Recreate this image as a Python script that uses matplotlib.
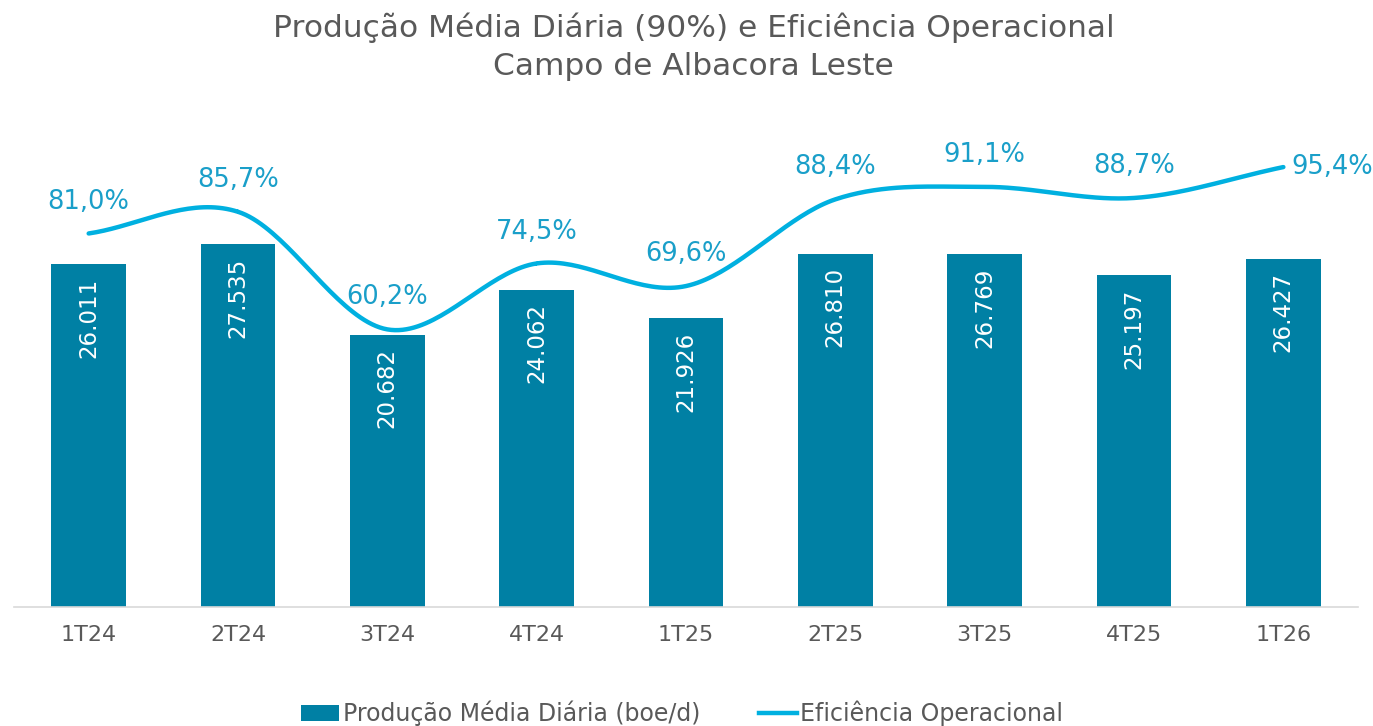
import numpy as np
import matplotlib
matplotlib.use('Agg')
from matplotlib import pyplot as plt
from matplotlib.lines import Line2D
from matplotlib.patches import Patch

# dados
quarters = ['1T24', '2T24', '3T24', '4T24', '1T25', '2T25', '3T25', '4T25', '1T26']
producao = [26011, 27535, 20682, 24062, 21926, 26810, 26769, 25197, 26427]
eficiencia = [81.0, 85.7, 60.2, 74.5, 69.6, 88.4, 91.1, 88.7, 95.4]

bar_color = '#0080A4'
line_color = '#00B0E0'
label_color = '#1A9FC9'
gray = '#595959'

plt.rcParams['font.family'] = ['DejaVu Sans']


def fmt_milhar(v):
    return f'{v:,}'.replace(',', '.')


def catmull_rom(xs, ys, n=40):
    # curva suavizada tipo Excel
    xs = np.asarray(xs, float)
    ys = np.asarray(ys, float)
    px = np.concatenate([[2 * xs[0] - xs[1]], xs, [2 * xs[-1] - xs[-2]]])
    py = np.concatenate([[2 * ys[0] - ys[1]], ys, [2 * ys[-1] - ys[-2]]])
    outx, outy = [], []
    t = np.linspace(0, 1, n)
    for i in range(1, len(px) - 2):
        for arr, out in ((px, outx), (py, outy)):
            p0, p1, p2, p3 = arr[i - 1], arr[i], arr[i + 1], arr[i + 2]
            out.extend(0.5 * ((2 * p1) + (-p0 + p2) * t
                              + (2 * p0 - 5 * p1 + 4 * p2 - p3) * t ** 2
                              + (-p0 + 3 * p1 - 3 * p2 + p3) * t ** 3))
    return np.array(outx), np.array(outy)


fig = plt.figure(figsize=(13.73, 7.26), dpi=100)
ax = fig.add_axes([0.0102, 0.1639, 0.9789, 0.6352])
x = np.arange(len(quarters))

ax.bar(x, producao, width=0.5, color=bar_color, zorder=2)
for xi, v in zip(x, producao):
    ax.text(xi, v - 1000, fmt_milhar(v), rotation=90, ha='center', va='top',
            color='white', fontsize=16.5)

ax.set_xlim(-0.5, len(quarters) - 0.5)
ax.set_ylim(0, 35000)
ax.set_yticks([])
ax.set_xticks(x)
ax.set_xticklabels(quarters, fontsize=16, color=gray)
ax.tick_params(axis='x', length=0, pad=13)
for s in ['top', 'right', 'left']:
    ax.spines[s].set_visible(False)
ax.spines['bottom'].set_color('#D9D9D9')
ax.spines['bottom'].set_linewidth(1.2)

ax2 = ax.twinx()
ax2.set_ylim(0, 100)
ax2.set_yticks([])
for s in ax2.spines.values():
    s.set_visible(False)
sx, sy = catmull_rom(x, eficiencia)
ax2.plot(sx, sy, color=line_color, lw=3.2, solid_capstyle='round', zorder=3)
for i, (xi, v) in enumerate(zip(x, eficiencia)):
    lab = f'{v:.1f}%'.replace('.', ',')
    if i == len(x) - 1:
        ax2.annotate(lab, (xi, v), xytext=(6, 0), textcoords='offset points',
                     ha='left', va='center', color=label_color, fontsize=18.5)
    else:
        ax2.annotate(lab, (xi, v), xytext=(0, 23), textcoords='offset points',
                     ha='center', va='center', color=label_color, fontsize=18.5)

fig.text(0.505, 0.962, 'Produção Média Diária (90%) e Eficiência Operacional',
         ha='center', va='center', fontsize=22.5, color=gray)
fig.text(0.505, 0.908, 'Campo de Albacora Leste',
         ha='center', va='center', fontsize=22.5, color=gray)

handles = [Patch(facecolor=bar_color, label='Produção Média Diária (boe/d)'),
           Line2D([0], [0], color=line_color, lw=3.2, label='Eficiência Operacional')]
leg = fig.legend(handles=handles, loc='center', bbox_to_anchor=(0.497, 0.017), ncol=2,
                 frameon=False, fontsize=17, handlelength=1.6, handletextpad=0.15,
                 columnspacing=2.5)
for t in leg.get_texts():
    t.set_color(gray)

fig.savefig('out.png', dpi=100)
